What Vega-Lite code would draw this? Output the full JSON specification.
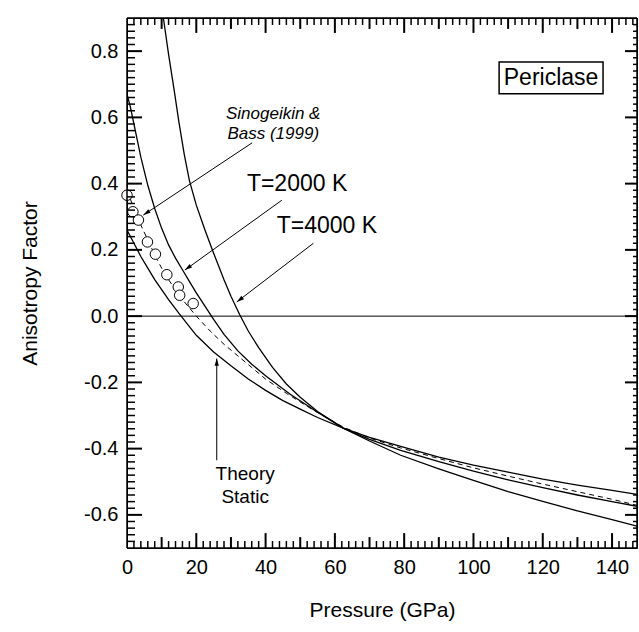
{
  "$schema": "https://vega.github.io/schema/vega-lite/v6.json",
  "autosize": {"type": "none"},
  "padding": {"left": 127, "top": 18, "right": 2, "bottom": 84},
  "width": 510,
  "height": 530,
  "background": "white",
  "config": {
    "font": "Liberation Sans",
    "view": {"stroke": "black", "strokeWidth": 1},
    "axis": {"domain": false, "grid": false, "labelFont": "Liberation Sans", "labelFontSize": 20, "labelColor": "black", "tickColor": "black", "tickWidth": 1, "titleFont": "Liberation Sans", "titleFontSize": 21, "titleFontWeight": "normal", "titleColor": "black"}
  },
  "datasets": {
    "curves": [
      {"series": "static", "P": 0, "A": 0.26}, {"series": "static", "P": 2, "A": 0.22}, {"series": "static", "P": 4, "A": 0.18}, {"series": "static", "P": 6, "A": 0.145}, {"series": "static", "P": 8, "A": 0.11}, {"series": "static", "P": 10, "A": 0.08}, {"series": "static", "P": 12, "A": 0.05}, {"series": "static", "P": 15, "A": 0.008}, {"series": "static", "P": 20, "A": -0.058}, {"series": "static", "P": 25, "A": -0.108}, {"series": "static", "P": 30, "A": -0.15}, {"series": "static", "P": 35, "A": -0.19}, {"series": "static", "P": 40, "A": -0.224}, {"series": "static", "P": 45, "A": -0.255}, {"series": "static", "P": 50, "A": -0.281}, {"series": "static", "P": 55, "A": -0.306}, {"series": "static", "P": 62.4, "A": -0.338}, {"series": "static", "P": 70, "A": -0.366}, {"series": "static", "P": 80, "A": -0.396}, {"series": "static", "P": 90, "A": -0.426}, {"series": "static", "P": 100, "A": -0.45}, {"series": "static", "P": 110, "A": -0.471}, {"series": "static", "P": 120, "A": -0.492}, {"series": "static", "P": 130, "A": -0.51}, {"series": "static", "P": 140, "A": -0.526}, {"series": "static", "P": 147.2, "A": -0.538},
      {"series": "t2000", "P": 0, "A": 0.67}, {"series": "t2000", "P": 1, "A": 0.63}, {"series": "t2000", "P": 2, "A": 0.58}, {"series": "t2000", "P": 3, "A": 0.53}, {"series": "t2000", "P": 4, "A": 0.48}, {"series": "t2000", "P": 6, "A": 0.395}, {"series": "t2000", "P": 8, "A": 0.325}, {"series": "t2000", "P": 10, "A": 0.265}, {"series": "t2000", "P": 12, "A": 0.215}, {"series": "t2000", "P": 14, "A": 0.175}, {"series": "t2000", "P": 16, "A": 0.14}, {"series": "t2000", "P": 18, "A": 0.105}, {"series": "t2000", "P": 20, "A": 0.07}, {"series": "t2000", "P": 22.5, "A": 0.03}, {"series": "t2000", "P": 25, "A": -0.01}, {"series": "t2000", "P": 28, "A": -0.055}, {"series": "t2000", "P": 32, "A": -0.105}, {"series": "t2000", "P": 36, "A": -0.145}, {"series": "t2000", "P": 40, "A": -0.18}, {"series": "t2000", "P": 47, "A": -0.235}, {"series": "t2000", "P": 55, "A": -0.29}, {"series": "t2000", "P": 62.4, "A": -0.338}, {"series": "t2000", "P": 70, "A": -0.372}, {"series": "t2000", "P": 79, "A": -0.405}, {"series": "t2000", "P": 90, "A": -0.439}, {"series": "t2000", "P": 100, "A": -0.468}, {"series": "t2000", "P": 110, "A": -0.494}, {"series": "t2000", "P": 120, "A": -0.518}, {"series": "t2000", "P": 130, "A": -0.54}, {"series": "t2000", "P": 140, "A": -0.56}, {"series": "t2000", "P": 147.2, "A": -0.574},
      {"series": "t4000", "P": 10.5, "A": 0.9}, {"series": "t4000", "P": 12, "A": 0.79}, {"series": "t4000", "P": 13.5, "A": 0.69}, {"series": "t4000", "P": 15, "A": 0.585}, {"series": "t4000", "P": 16.5, "A": 0.49}, {"series": "t4000", "P": 18, "A": 0.41}, {"series": "t4000", "P": 20, "A": 0.335}, {"series": "t4000", "P": 22.5, "A": 0.26}, {"series": "t4000", "P": 25, "A": 0.19}, {"series": "t4000", "P": 28, "A": 0.11}, {"series": "t4000", "P": 30, "A": 0.06}, {"series": "t4000", "P": 32.5, "A": 0.005}, {"series": "t4000", "P": 35, "A": -0.045}, {"series": "t4000", "P": 38, "A": -0.095}, {"series": "t4000", "P": 42, "A": -0.155}, {"series": "t4000", "P": 46, "A": -0.205}, {"series": "t4000", "P": 50, "A": -0.245}, {"series": "t4000", "P": 55, "A": -0.288}, {"series": "t4000", "P": 62.4, "A": -0.338}, {"series": "t4000", "P": 70, "A": -0.377}, {"series": "t4000", "P": 79, "A": -0.42}, {"series": "t4000", "P": 90, "A": -0.461}, {"series": "t4000", "P": 100, "A": -0.496}, {"series": "t4000", "P": 110, "A": -0.53}, {"series": "t4000", "P": 120, "A": -0.559}, {"series": "t4000", "P": 130, "A": -0.588}, {"series": "t4000", "P": 140, "A": -0.614}, {"series": "t4000", "P": 147.2, "A": -0.634},
      {"series": "dashed", "P": 0, "A": 0.38}, {"series": "dashed", "P": 2, "A": 0.325}, {"series": "dashed", "P": 4, "A": 0.275}, {"series": "dashed", "P": 6, "A": 0.23}, {"series": "dashed", "P": 8, "A": 0.185}, {"series": "dashed", "P": 10, "A": 0.145}, {"series": "dashed", "P": 12, "A": 0.11}, {"series": "dashed", "P": 14, "A": 0.08}, {"series": "dashed", "P": 16, "A": 0.05}, {"series": "dashed", "P": 18, "A": 0.025}, {"series": "dashed", "P": 20, "A": 0.0}, {"series": "dashed", "P": 24, "A": -0.045}, {"series": "dashed", "P": 28, "A": -0.085}, {"series": "dashed", "P": 32, "A": -0.12}, {"series": "dashed", "P": 36, "A": -0.155}, {"series": "dashed", "P": 40, "A": -0.19}, {"series": "dashed", "P": 46, "A": -0.233}, {"series": "dashed", "P": 54, "A": -0.285}, {"series": "dashed", "P": 62.4, "A": -0.335}, {"series": "dashed", "P": 70, "A": -0.368}, {"series": "dashed", "P": 79, "A": -0.398}, {"series": "dashed", "P": 90, "A": -0.43}, {"series": "dashed", "P": 100, "A": -0.458}, {"series": "dashed", "P": 110, "A": -0.483}, {"series": "dashed", "P": 120, "A": -0.507}, {"series": "dashed", "P": 130, "A": -0.53}, {"series": "dashed", "P": 140, "A": -0.553}, {"series": "dashed", "P": 147.2, "A": -0.571}
    ],
    "circles": [
      {"P": 0, "A": 0.365}, {"P": 1.7, "A": 0.315}, {"P": 3.3, "A": 0.29}, {"P": 5.9, "A": 0.224}, {"P": 8.2, "A": 0.187}, {"P": 11.5, "A": 0.125}, {"P": 14.8, "A": 0.088}, {"P": 15.2, "A": 0.063}, {"P": 19.1, "A": 0.038}
    ],
    "arrows": [
      {"name": "sino", "P": 36.1, "A": 0.523, "P2": 4.7, "A2": 0.305},
      {"name": "t2000", "P": 44.7, "A": 0.35, "P2": 16.7, "A2": 0.139},
      {"name": "t4000", "P": 53.8, "A": 0.22, "P2": 31.7, "A2": 0.043},
      {"name": "static", "P": 25.9, "A": -0.435, "P2": 25.9, "A2": -0.128}
    ],
    "box": [{"P": 107.4, "P2": 137.4, "A": 0.671, "A2": 0.767}],
    "xmaj": [{"v": 20}, {"v": 40}, {"v": 60}, {"v": 80}, {"v": 100}, {"v": 120}, {"v": 140}],
    "xmed": [{"v": 10}, {"v": 30}, {"v": 50}, {"v": 70}, {"v": 90}, {"v": 110}, {"v": 130}],
    "xmin": [{"v": 2}, {"v": 4}, {"v": 6}, {"v": 8}, {"v": 12}, {"v": 14}, {"v": 16}, {"v": 18}, {"v": 22}, {"v": 24}, {"v": 26}, {"v": 28}, {"v": 32}, {"v": 34}, {"v": 36}, {"v": 38}, {"v": 42}, {"v": 44}, {"v": 46}, {"v": 48}, {"v": 52}, {"v": 54}, {"v": 56}, {"v": 58}, {"v": 62}, {"v": 64}, {"v": 66}, {"v": 68}, {"v": 72}, {"v": 74}, {"v": 76}, {"v": 78}, {"v": 82}, {"v": 84}, {"v": 86}, {"v": 88}, {"v": 92}, {"v": 94}, {"v": 96}, {"v": 98}, {"v": 102}, {"v": 104}, {"v": 106}, {"v": 108}, {"v": 112}, {"v": 114}, {"v": 116}, {"v": 118}, {"v": 122}, {"v": 124}, {"v": 126}, {"v": 128}, {"v": 132}, {"v": 134}, {"v": 136}, {"v": 138}, {"v": 142}, {"v": 144}, {"v": 146}],
    "ymaj": [{"v": -0.6}, {"v": -0.4}, {"v": -0.2}, {"v": 0}, {"v": 0.2}, {"v": 0.4}, {"v": 0.6}, {"v": 0.8}],
    "ymin": [{"v": -0.68}, {"v": -0.66}, {"v": -0.64}, {"v": -0.62}, {"v": -0.58}, {"v": -0.56}, {"v": -0.54}, {"v": -0.52}, {"v": -0.5}, {"v": -0.48}, {"v": -0.46}, {"v": -0.44}, {"v": -0.42}, {"v": -0.38}, {"v": -0.36}, {"v": -0.34}, {"v": -0.32}, {"v": -0.3}, {"v": -0.28}, {"v": -0.26}, {"v": -0.24}, {"v": -0.22}, {"v": -0.18}, {"v": -0.16}, {"v": -0.14}, {"v": -0.12}, {"v": -0.1}, {"v": -0.08}, {"v": -0.06}, {"v": -0.04}, {"v": -0.02}, {"v": 0.02}, {"v": 0.04}, {"v": 0.06}, {"v": 0.08}, {"v": 0.1}, {"v": 0.12}, {"v": 0.14}, {"v": 0.16}, {"v": 0.18}, {"v": 0.22}, {"v": 0.24}, {"v": 0.26}, {"v": 0.28}, {"v": 0.3}, {"v": 0.32}, {"v": 0.34}, {"v": 0.36}, {"v": 0.38}, {"v": 0.42}, {"v": 0.44}, {"v": 0.46}, {"v": 0.48}, {"v": 0.5}, {"v": 0.52}, {"v": 0.54}, {"v": 0.56}, {"v": 0.58}, {"v": 0.62}, {"v": 0.64}, {"v": 0.66}, {"v": 0.68}, {"v": 0.7}, {"v": 0.72}, {"v": 0.74}, {"v": 0.76}, {"v": 0.78}, {"v": 0.82}, {"v": 0.84}, {"v": 0.86}, {"v": 0.88}]
  },
  "layer": [
    {
      "data": {"name": "curves"},
      "transform": [{"filter": "datum.series === 'static'"}],
      "mark": {"type": "line", "color": "black", "strokeWidth": 1.3, "clip": true},
      "encoding": {
        "x": {"field": "P", "type": "quantitative", "scale": {"domain": [0, 147.2], "nice": false, "zero": false},
          "axis": {"orient": "bottom", "values": [0, 20, 40, 60, 80, 100, 120, 140], "ticks": false, "tickSize": 0, "labels": true, "labelPadding": 19, "labelBaseline": "middle", "labelDx": 4, "labelFlush": false, "title": "Pressure (GPa)", "titleBaseline": "middle", "titleY": 62}},
        "y": {"field": "A", "type": "quantitative", "scale": {"domain": [-0.7, 0.9], "nice": false, "zero": false},
          "axis": {"orient": "left", "values": [-0.6, -0.4, -0.2, 0, 0.2, 0.4, 0.6, 0.8], "ticks": false, "tickSize": 0, "labels": true, "labelPadding": 9, "labelFlush": false, "labelExpr": "replace(format(datum.value, '.1f'), '\u2212', '-')", "title": "Anisotropy Factor", "titleAngle": -90, "titleBaseline": "middle", "titleX": -97, "titleY": 265}}
      }
    },
    {
      "data": {"name": "curves"},
      "transform": [{"filter": "datum.series === 't2000'"}],
      "mark": {"type": "line", "color": "black", "strokeWidth": 1.3, "clip": true},
      "encoding": {"x": {"field": "P", "type": "quantitative"}, "y": {"field": "A", "type": "quantitative"}}
    },
    {
      "data": {"name": "curves"},
      "transform": [{"filter": "datum.series === 't4000'"}],
      "mark": {"type": "line", "color": "black", "strokeWidth": 1.3, "clip": true},
      "encoding": {"x": {"field": "P", "type": "quantitative"}, "y": {"field": "A", "type": "quantitative"}}
    },
    {
      "data": {"name": "curves"},
      "transform": [{"filter": "datum.series === 'dashed'"}],
      "mark": {"type": "line", "color": "black", "strokeWidth": 1, "strokeDash": [5, 4], "clip": true},
      "encoding": {"x": {"field": "P", "type": "quantitative"}, "y": {"field": "A", "type": "quantitative"}}
    },
    {
      "data": {"name": "circles"},
      "mark": {"type": "point", "shape": "circle", "filled": true, "fill": "white", "stroke": "black", "strokeWidth": 1, "size": 110, "opacity": 1},
      "encoding": {"x": {"field": "P", "type": "quantitative"}, "y": {"field": "A", "type": "quantitative"}}
    },
    {
      "data": {"name": "arrows"},
      "mark": {"type": "rule", "color": "black", "strokeWidth": 1},
      "encoding": {
        "x": {"field": "P", "type": "quantitative"},
        "y": {"field": "A", "type": "quantitative"},
        "x2": {"field": "P2"},
        "y2": {"field": "A2"}
      }
    },
    {
      "data": {"values": [{"v": 0}]},
      "mark": {"type": "rule", "color": "black", "strokeWidth": 1},
      "encoding": {"y": {"datum": 0, "type": "quantitative"}}
    },
    {
      "data": {"name": "arrows"},
      "transform": [{"filter": "datum.name === 'sino'"}],
      "mark": {"type": "point", "shape": "M0,0L-0.35,1.2L0.35,1.2Z", "filled": true, "color": "black", "size": 150, "angle": 236.6, "opacity": 1},
      "encoding": {"x": {"field": "P2", "type": "quantitative"}, "y": {"field": "A2", "type": "quantitative"}}
    },
    {
      "data": {"name": "arrows"},
      "transform": [{"filter": "datum.name === 't2000'"}],
      "mark": {"type": "point", "shape": "M0,0L-0.35,1.2L0.35,1.2Z", "filled": true, "color": "black", "size": 150, "angle": 234.1, "opacity": 1},
      "encoding": {"x": {"field": "P2", "type": "quantitative"}, "y": {"field": "A2", "type": "quantitative"}}
    },
    {
      "data": {"name": "arrows"},
      "transform": [{"filter": "datum.name === 't4000'"}],
      "mark": {"type": "point", "shape": "M0,0L-0.35,1.2L0.35,1.2Z", "filled": true, "color": "black", "size": 150, "angle": 232.7, "opacity": 1},
      "encoding": {"x": {"field": "P2", "type": "quantitative"}, "y": {"field": "A2", "type": "quantitative"}}
    },
    {
      "data": {"name": "arrows"},
      "transform": [{"filter": "datum.name === 'static'"}],
      "mark": {"type": "point", "shape": "M0,0L-0.35,1.2L0.35,1.2Z", "filled": true, "color": "black", "size": 150, "angle": 0, "opacity": 1},
      "encoding": {"x": {"field": "P2", "type": "quantitative"}, "y": {"field": "A2", "type": "quantitative"}}
    },
    {
      "data": {"name": "box"},
      "mark": {"type": "rect", "fill": "white", "stroke": "black", "strokeWidth": 1.5},
      "encoding": {
        "x": {"field": "P", "type": "quantitative"},
        "x2": {"field": "P2"},
        "y": {"field": "A", "type": "quantitative"},
        "y2": {"field": "A2"}
      }
    },
    {
      "data": {"values": [{"label": "Periclase", "P": 122.4, "A": 0.719}]},
      "mark": {"type": "text", "fontSize": 23, "align": "center", "baseline": "middle", "color": "black"},
      "encoding": {"x": {"field": "P", "type": "quantitative"}, "y": {"field": "A", "type": "quantitative"}, "text": {"field": "label"}}
    },
    {
      "data": {"values": [{"label": "Sinogeikin &", "P": 42.2, "A": 0.61}, {"label": "Bass (1999)", "P": 42.2, "A": 0.55}]},
      "mark": {"type": "text", "fontSize": 17, "fontStyle": "italic", "align": "center", "baseline": "middle", "color": "black"},
      "encoding": {"x": {"field": "P", "type": "quantitative"}, "y": {"field": "A", "type": "quantitative"}, "text": {"field": "label"}}
    },
    {
      "data": {"values": [{"label": "T=2000 K", "P": 34.6, "A": 0.399}, {"label": "T=4000 K", "P": 43.2, "A": 0.273}]},
      "mark": {"type": "text", "fontSize": 23, "align": "left", "baseline": "middle", "color": "black"},
      "encoding": {"x": {"field": "P", "type": "quantitative"}, "y": {"field": "A", "type": "quantitative"}, "text": {"field": "label"}}
    },
    {
      "data": {"values": [{"label": "Theory", "P": 34.1, "A": -0.477}, {"label": "Static", "P": 34.1, "A": -0.547}]},
      "mark": {"type": "text", "fontSize": 19, "align": "center", "baseline": "middle", "color": "black"},
      "encoding": {"x": {"field": "P", "type": "quantitative"}, "y": {"field": "A", "type": "quantitative"}, "text": {"field": "label"}}
    },
    {
      "data": {"name": "xmaj"},
      "mark": {"type": "rule", "color": "#000000", "strokeWidth": 2},
      "encoding": {"x": {"field": "v", "type": "quantitative"}, "y": {"datum": -0.7, "type": "quantitative"}, "y2": {"datum": -0.655}}
    },
    {
      "data": {"name": "xmaj"},
      "mark": {"type": "rule", "color": "#000000", "strokeWidth": 2},
      "encoding": {"x": {"field": "v", "type": "quantitative"}, "y": {"datum": 0.9, "type": "quantitative"}, "y2": {"datum": 0.855}}
    },
    {
      "data": {"name": "xmed"},
      "mark": {"type": "rule", "color": "#000000", "strokeWidth": 2},
      "encoding": {"x": {"field": "v", "type": "quantitative"}, "y": {"datum": -0.7, "type": "quantitative"}, "y2": {"datum": -0.667}}
    },
    {
      "data": {"name": "xmed"},
      "mark": {"type": "rule", "color": "#000000", "strokeWidth": 2},
      "encoding": {"x": {"field": "v", "type": "quantitative"}, "y": {"datum": 0.9, "type": "quantitative"}, "y2": {"datum": 0.867}}
    },
    {
      "data": {"name": "xmin"},
      "mark": {"type": "rule", "color": "#000000", "strokeWidth": 1.5},
      "encoding": {"x": {"field": "v", "type": "quantitative"}, "y": {"datum": -0.7, "type": "quantitative"}, "y2": {"datum": -0.679}}
    },
    {
      "data": {"name": "xmin"},
      "mark": {"type": "rule", "color": "#000000", "strokeWidth": 1.5},
      "encoding": {"x": {"field": "v", "type": "quantitative"}, "y": {"datum": 0.9, "type": "quantitative"}, "y2": {"datum": 0.879}}
    },
    {
      "data": {"name": "ymaj"},
      "mark": {"type": "rule", "color": "#000000", "strokeWidth": 2},
      "encoding": {"y": {"field": "v", "type": "quantitative"}, "x": {"datum": 0, "type": "quantitative"}, "x2": {"datum": 4.33}}
    },
    {
      "data": {"name": "ymaj"},
      "mark": {"type": "rule", "color": "#000000", "strokeWidth": 2},
      "encoding": {"y": {"field": "v", "type": "quantitative"}, "x": {"datum": 147.2, "type": "quantitative"}, "x2": {"datum": 143.74}}
    },
    {
      "data": {"name": "ymin"},
      "mark": {"type": "rule", "color": "#000000", "strokeWidth": 1.5},
      "encoding": {"y": {"field": "v", "type": "quantitative"}, "x": {"datum": 0, "type": "quantitative"}, "x2": {"datum": 2.31}}
    },
    {
      "data": {"name": "ymin"},
      "mark": {"type": "rule", "color": "#000000", "strokeWidth": 1.5},
      "encoding": {"y": {"field": "v", "type": "quantitative"}, "x": {"datum": 147.2, "type": "quantitative"}, "x2": {"datum": 146.05}}
    },
    {
      "data": {"values": [{"v": 0}]},
      "mark": {"type": "rule", "color": "black", "strokeWidth": 1.5},
      "encoding": {"y": {"datum": -0.7, "type": "quantitative"}}
    },
    {
      "data": {"values": [{"v": 0}]},
      "mark": {"type": "rule", "color": "black", "strokeWidth": 1.5},
      "encoding": {"y": {"datum": 0.9, "type": "quantitative"}}
    },
    {
      "data": {"values": [{"v": 0}]},
      "mark": {"type": "rule", "color": "black", "strokeWidth": 1.5},
      "encoding": {"x": {"datum": 0, "type": "quantitative"}}
    },
    {
      "data": {"values": [{"v": 0}]},
      "mark": {"type": "rule", "color": "black", "strokeWidth": 1.5},
      "encoding": {"x": {"datum": 147.2, "type": "quantitative"}}
    }
  ]
}
